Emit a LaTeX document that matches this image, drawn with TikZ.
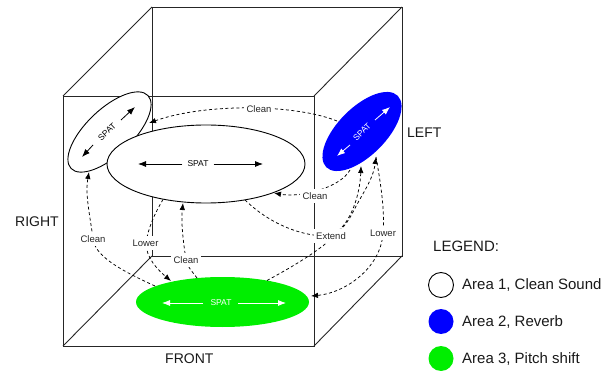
\documentclass[tikz,border=0pt]{standalone}
\usepackage{fontspec}
\setmainfont{Liberation Sans}
\usetikzlibrary{arrows.meta,shapes.geometric}
\definecolor{areablue}{RGB}{0,0,255}
\definecolor{areagreen}{RGB}{0,238,0}
\begin{document}
\begin{tikzpicture}[x=1pt,y=-1pt,
  cube/.style={line width=0.9pt, draw=black!85},
  area/.style={ellipse, inner sep=0pt},
  conn/.style={line width=0.75pt, dash pattern=on 3pt off 2.5pt, -{Latex[length=7pt,width=5.5pt]}},
  connplain/.style={line width=0.75pt, dash pattern=on 3pt off 2.5pt},
  lbl/.style={fill=white, inner xsep=2.5pt, inner ysep=3.5pt, font=\fontsize{9.5}{10}\selectfont, text=black!85},
  spat/.style={font=\fontsize{8.5}{9}\selectfont, inner sep=0pt},
  sarr/.style={line width=0.8pt, -{Latex[length=8pt,width=6pt]}},
  side/.style={font=\fontsize{14}{16}\selectfont, inner sep=0pt, anchor=west, text=black!90},
  leg/.style={font=\fontsize{15}{17}\selectfont, inner sep=0pt, anchor=west, text=black!90},
]
\useasboundingbox (0,0) rectangle (610,371);
% cube
\coordinate (F1) at (63,96);
\coordinate (F2) at (314,96);
\coordinate (F3) at (314,346);
\coordinate (F4) at (63,346);
\coordinate (B1) at (152,7);
\coordinate (B2) at (402,7);
\coordinate (B3) at (402,256);
\coordinate (B4) at (152,256);
\draw[cube] (B1) rectangle (B3);
\draw[cube] (F1) rectangle (F3);
\draw[cube] (F1)--(B1) (F2)--(B2) (F3)--(B3) (F4)--(B4);
% areas
\node[area, draw=black, line width=0.9pt, fill=white, minimum width=106pt, minimum height=46pt, rotate=43.5] (small) at (109.5,132) {};
\node[area, fill=areablue, minimum width=101pt, minimum height=48pt, rotate=45] (blue) at (362,131.5) {};
\node[area, draw=black, line width=0.9pt, fill=white, minimum width=198pt, minimum height=78pt] (big) at (206,164) {};
\node[area, fill=areagreen, minimum width=173pt, minimum height=50pt] (green) at (222.5,302) {};
% SPAT labels and arrows
\node[spat] (sbig) at (198,164) {SPAT};
\coordinate (sbigL) at (138,164);
\coordinate (sbigR) at (263,164);
\draw[sarr] (sbig.west)++(-5,0) -- (sbigL);
\draw[sarr] (sbig.east)++(5,0) -- (sbigR);
\node[spat, text=white] (sgreen) at (221,303) {SPAT};
\coordinate (sgreenL) at (162,303);
\coordinate (sgreenR) at (286,303);
\draw[sarr, white] (203,303) -- (sgreenL);
\draw[sarr, white] (238,303) -- (sgreenR);
\node[spat, rotate=43] (ssmall) at (107,132) {SPAT};
\coordinate (ssmallL) at (82,157);
\coordinate (ssmallR) at (135,107);
\draw[sarr] (93,145) -- (ssmallL);
\draw[sarr] (121,120) -- (ssmallR);
\node[spat, rotate=45, text=white] (sblue) at (362,132) {SPAT};
\coordinate (sblueL) at (337,156);
\coordinate (sblueR) at (390,107);
\draw[sarr, white] (350,145) -- (sblueL);
\draw[sarr, white] (375,120) -- (sblueR);
% ports
\coordinate (bl1) at (337,121);
\coordinate (sm1) at (149,123);
\coordinate (bl2) at (350,170);
\coordinate (bg2) at (274,193);
\coordinate (bg3) at (245,200);
\coordinate (bl3) at (361,166);
\coordinate (gr4) at (267,280.5);
\coordinate (bl4) at (376,157);
\coordinate (gr5) at (311,296);
\coordinate (gr6) at (155,286);
\coordinate (sm6) at (89,172);
\coordinate (bg7) at (163,199.5);
\coordinate (gr7) at (171,281);
\coordinate (gr8) at (197,278);
\coordinate (bg8) at (183,203);
% connectors
\draw[conn] (bl1) .. controls (295,104) and (205,103) .. (sm1);
\draw[conn] (bl2) .. controls (340,188) and (300,198) .. (bg2);
\draw[conn] (bg3) .. controls (272,226) and (305,237) .. (330,236) .. controls (350,228) and (360,195) .. (bl3);
\draw[conn] (gr4) .. controls (305,260) and (340,238) .. (352,214) .. controls (363,192) and (373,180) .. (bl4);
\draw[conn] (bl4) .. controls (381,185) and (385,212) .. (383,233) .. controls (381,268) and (345,293) .. (gr5);
\draw[conn] (gr6) .. controls (120,270) and (95,256) .. (93,239) .. controls (90,215) and (85,195) .. (sm6);
\draw[conn] (bg7) .. controls (155,213) and (148,228) .. (146,243) .. controls (146,258) and (158,270) .. (gr7);
\draw[conn] (gr8) .. controls (191,270) and (187,266) .. (186,260) .. controls (183,240) and (181,222) .. (bg8);
% connector labels
\node[lbl] (l1) at (259,109) {Clean};
\node[lbl] (l2) at (315,196) {Clean};
\node[lbl] (l3) at (331,236) {Extend};
\node[lbl] (l5) at (383,233) {Lower};
\node[lbl] (l6) at (93,239) {Clean};
\node[lbl] (l7) at (145.5,243) {Lower};
\node[lbl] (l8) at (186,260) {Clean};
% side labels
\node[side] (right) at (15,222) {RIGHT};
\node[side] (left) at (407,133) {LEFT};
\node[side] (front) at (165,359) {FRONT};
% legend
\node[leg] (legend) at (433,246) {LEGEND:};
\node[circle, draw=black, line width=0.9pt, fill=white, minimum size=25pt, inner sep=0pt] (c1) at (441,285) {};
\node[circle, fill=areablue, minimum size=25pt, inner sep=0pt] (c2) at (441,321.5) {};
\node[circle, fill=areagreen, minimum size=25pt, inner sep=0pt] (c3) at (441,358.5) {};
\node[leg] (t1) at (462,285) {Area 1, Clean Sound};
\node[leg] (t2) at (462,322) {Area 2, Reverb};
\node[leg] (t3) at (462,359) {Area 3, Pitch shift};
\end{tikzpicture}
\end{document}
